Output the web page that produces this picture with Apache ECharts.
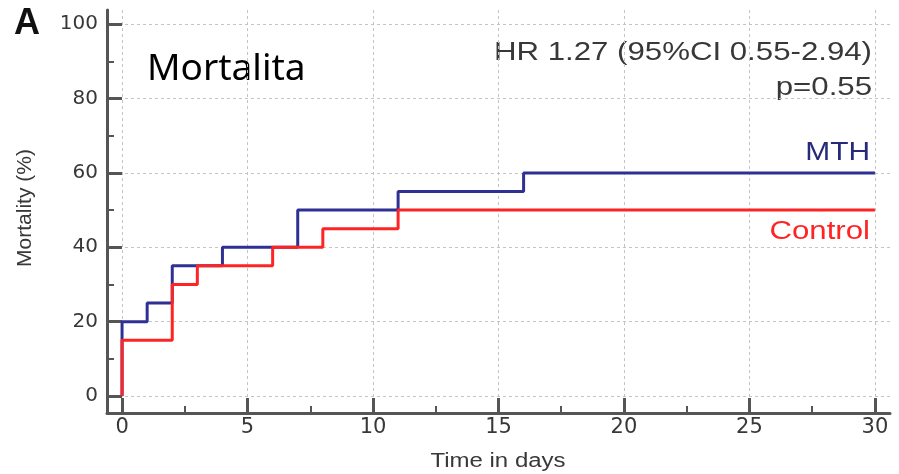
<!DOCTYPE html>
<html>
<head>
<meta charset="utf-8">
<script src="https://cdn.jsdelivr.net/npm/echarts@6/dist/echarts.min.js"></script>
<style>
  html, body { margin: 0; padding: 0; background: #fff; }
  #chart { width: 899px; height: 474px; }
</style>
</head>
<body>
<div id="chart"></div>
<script>
// Kaplan-Meier data: [day, cumulative mortality %] at each step
var aMthSteps = [[0, 0], [0, 20], [1, 25], [2, 35], [4, 40], [7, 50], [11, 55], [16, 60], [30, 60]];
var aControlSteps = [[0, 0], [0, 15], [2, 30], [3, 35], [6, 40], [8, 45], [11, 50], [30, 50]];

var aXMajor = [0, 5, 10, 15, 20, 25, 30];
var aXMinor = [2.5, 7.5, 12.5, 17.5, 22.5, 27.5];
var aYMajor = [0, 20, 40, 60, 80, 100];
var aYMinor = [10, 30, 50, 70, 90];

var sAxisColor = '#555';
var sTextColor = '#383838';

var myChart = echarts.init(document.getElementById('chart'));

var jGridLine = {show: true, lineStyle: {color: '#c4c4c4', type: [3, 3], width: 1}};

var jOption = {
    animation: false,
    grid: {left: 107, right: 9, top: 10, bottom: 61},
    xAxis: [
        {   // major ticks + labels
            type: 'value', min: -0.6, max: 30.6,
            axisLine: {show: true, onZero: false, lineStyle: {color: sAxisColor, width: 3}},
            axisTick: {show: true, inside: true, length: 15, customValues: aXMajor,
                lineStyle: {color: sAxisColor, width: 3}},
            axisLabel: {customValues: aXMajor, margin: 4, color: sTextColor,
                fontFamily: 'DejaVu Sans', fontSize: 21},
            splitLine: jGridLine
        },
        {   // minor ticks only
            type: 'value', min: -0.6, max: 30.6, position: 'bottom',
            axisLine: {show: false, onZero: false},
            axisTick: {show: true, inside: true, length: 7, customValues: aXMinor,
                lineStyle: {color: sAxisColor, width: 2}},
            axisLabel: {show: false},
            splitLine: {show: false}
        }
    ],
    yAxis: [
        {
            type: 'value', min: -4.57, max: 103.8,
            axisLine: {show: true, onZero: false, lineStyle: {color: sAxisColor, width: 3}},
            axisTick: {show: true, inside: true, length: 15, customValues: aYMajor,
                lineStyle: {color: sAxisColor, width: 3}},
            axisLabel: {customValues: aYMajor, margin: 9, color: sTextColor,
                fontFamily: 'DejaVu Sans', fontSize: 20},
            splitLine: jGridLine
        },
        {
            type: 'value', min: -4.57, max: 103.8, position: 'left',
            axisLine: {show: false, onZero: false},
            axisTick: {show: true, inside: true, length: 7, customValues: aYMinor,
                lineStyle: {color: sAxisColor, width: 2}},
            axisLabel: {show: false},
            splitLine: {show: false}
        }
    ],
    series: [
        {
            name: 'MTH', type: 'line', step: 'end', data: aMthSteps,
            symbol: 'none', lineStyle: {color: '#2f3094', width: 3}, z: 3
        },
        {
            name: 'Control', type: 'line', step: 'end', data: aControlSteps,
            symbol: 'none', lineStyle: {color: '#ff2424', width: 3}, z: 4
        }
    ],
    graphic: [
        {type: 'text', x: 14, y: 24, style: {text: 'A', font: 'bold 36px "Liberation Sans"',
            fill: '#111', verticalAlign: 'middle'}},
        {type: 'text', x: 147, y: 69, style: {text: 'Mortalita', font: '37px "Noto Sans"',
            fill: '#000', verticalAlign: 'middle'}},
        {type: 'text', x: 872, y: 53, scaleX: 1.2,
            style: {text: 'HR 1.27 (95%CI 0.55-2.94)', font: '26px "Liberation Sans"',
            fill: sTextColor, textAlign: 'right', verticalAlign: 'middle'}},
        {type: 'text', x: 872, y: 88, scaleX: 1.2,
            style: {text: 'p=0.55', font: '26px "Liberation Sans"',
            fill: sTextColor, textAlign: 'right', verticalAlign: 'middle'}},
        {type: 'text', x: 870, y: 153, scaleX: 1.15,
            style: {text: 'MTH', font: '26px "Liberation Sans"',
            fill: '#262a78', textAlign: 'right', verticalAlign: 'middle'}},
        {type: 'text', x: 870, y: 232, scaleX: 1.2,
            style: {text: 'Control', font: '26px "Liberation Sans"',
            fill: '#ff2424', textAlign: 'right', verticalAlign: 'middle'}},
        {type: 'text', x: 498, y: 461, scaleX: 1.2,
            style: {text: 'Time in days', font: '20px "Liberation Sans"',
            fill: sTextColor, textAlign: 'center', verticalAlign: 'middle'}},
        {type: 'text', x: 25, y: 208, rotation: Math.PI / 2,
            style: {text: 'Mortality (%)', font: '21px "Liberation Sans"',
            fill: sTextColor, textAlign: 'center', verticalAlign: 'middle'}}
    ]
};

myChart.setOption(jOption);
</script>
</body>
</html>
